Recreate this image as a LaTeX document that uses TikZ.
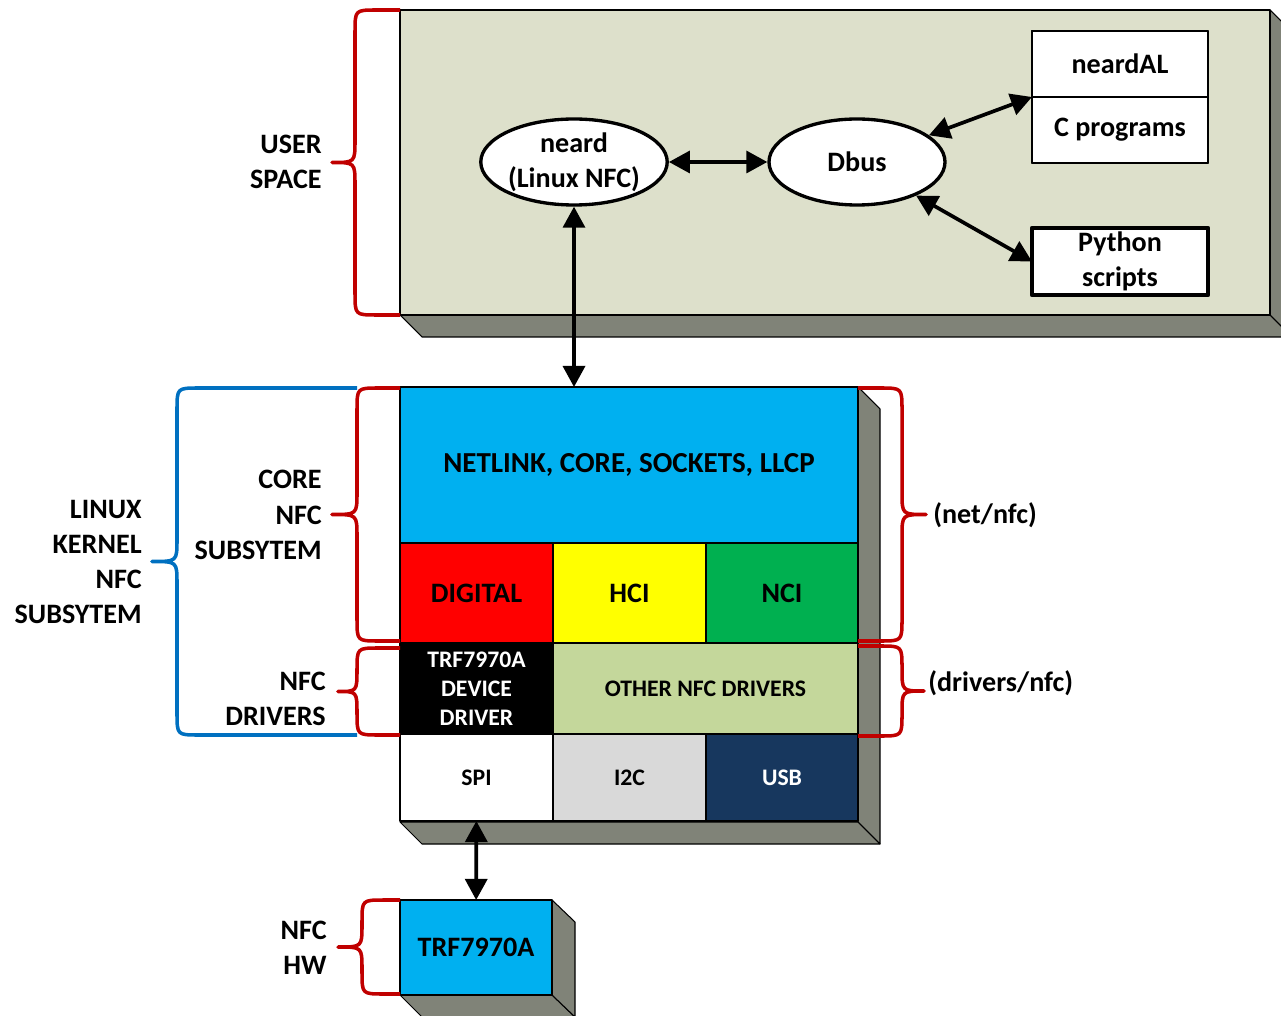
\documentclass[tikz,border=0pt]{standalone}
\usepackage{fontspec}
\setmainfont{Carlito}
\usetikzlibrary{shapes.geometric,arrows.meta}

\definecolor{userbg}{RGB}{221,224,203}
\definecolor{boxshadow}{RGB}{128,131,120}
\definecolor{coreblue}{RGB}{0,176,240}
\definecolor{digred}{RGB}{255,0,0}
\definecolor{hciyellow}{RGB}{255,255,0}
\definecolor{ncigreen}{RGB}{0,176,80}
\definecolor{drvgreen}{RGB}{196,215,155}
\definecolor{i2cgray}{RGB}{217,217,217}
\definecolor{usbnavy}{RGB}{23,55,94}
\definecolor{bracered}{RGB}{192,0,0}
\definecolor{braceblue}{RGB}{0,112,192}

\newcommand{\lblfont}{\fontsize{16}{20}\selectfont}
\newcommand{\cellfont}{\fontsize{13.5}{16.5}\selectfont}

% office style curly brace: colour, x of ends, x of spine, x of tip, top y, bottom y
\newcommand{\kbrace}[6]{%
  \pgfmathsetmacro{\bmid}{(#5+#6)/2}%
  \pgfmathsetmacro{\bcorner}{#3+22*(#2-#3)/abs(#2-#3)}%
  \draw[brace line, #1] (#2,#5) -- (\bcorner,#5) .. controls (#3,#5) .. (#3,#5+22)
    -- (#3,\bmid-22) .. controls (#3,\bmid) .. (#4,\bmid)
    .. controls (#3,\bmid) .. (#3,\bmid+22)
    -- (#3,#6-22) .. controls (#3,#6) .. (\bcorner,#6) -- (#2,#6);
}

\begin{document}
\begin{tikzpicture}[x=0.02cm, y=-0.02cm, font=\bfseries\lblfont, line join=round,
  cell/.style 2 args={draw, line width=0.6pt, inner sep=0pt, outer sep=0pt, anchor=north west,
    minimum width=#1*0.02cm, minimum height=#2*0.02cm, align=center},
  shadeface/.style={fill=boxshadow, draw, line width=0.6pt},
  bubble/.style={ellipse, draw, fill=white, line width=1.9pt, inner sep=0pt,
    minimum width=176*0.02cm, minimum height=86*0.02cm, align=center},
  link/.style={{Triangle[length=12pt,width=12.5pt]}-{Triangle[length=12pt,width=12.5pt]}, line width=2.1pt},
  lbl/.style={align=right, anchor=east, inner sep=0pt},
  rlbl/.style={anchor=west, inner sep=0pt},
  brace line/.style={line width=2pt}]
\useasboundingbox (0,0) rectangle (1281,1016);
\clip (0,0) rectangle (1281,1016);

%user space
\draw[shadeface] (400,315) -- (1270,315) -- (1292,337) -- (422,337) -- cycle;
\draw[shadeface] (1270,10) -- (1292,32) -- (1292,337) -- (1270,315) -- cycle;
\node[cell={870}{305}, fill=userbg] (user) at (400,10) {};
\node[bubble] (neard) at (574,162) {neard\\(Linux NFC)};
\node[bubble] (dbus) at (857,162) {Dbus};
\node[cell={176}{66}, fill=white] (neardal) at (1032,31) {neardAL};
\node[cell={176}{66}, fill=white] (cprog) at (1032,97) {C programs};
\draw[line width=1.6pt] (neardal.north west) rectangle (cprog.south east);
\node[cell={176}{67}, fill=white, line width=2.4pt] (python) at (1032,228) {Python\\scripts};

%kernel block
\draw[shadeface] (400,822) -- (858,822) -- (880,844) -- (422,844) -- cycle;
\draw[shadeface] (858,387) -- (880,409) -- (880,844) -- (858,822) -- cycle;
\node[cell={458}{156}, fill=coreblue, font=\bfseries\fontsize{16.5}{20}\selectfont] (netlink) at (400,387) {NETLINK, CORE, SOCKETS, LLCP};
\node[cell={153}{100}, fill=digred] (digital) at (400,543) {DIGITAL};
\node[cell={153}{100}, fill=hciyellow] (hci) at (digital.north east) {HCI};
\node[cell={152}{100}, fill=ncigreen] (nci) at (hci.north east) {NCI};
\node[cell={153}{91}, fill=black, text=white, font=\bfseries\cellfont] (trfdrv) at (digital.south west) {TRF7970A\\DEVICE\\DRIVER};
\node[cell={305}{91}, fill=drvgreen, font=\bfseries\cellfont] (others) at (trfdrv.north east) {OTHER NFC DRIVERS};
\node[cell={153}{87}, fill=white, font=\bfseries\cellfont] (spi) at (trfdrv.south west) {SPI};
\node[cell={153}{87}, fill=i2cgray, font=\bfseries\cellfont] (i2c) at (spi.north east) {I2C};
\node[cell={152}{87}, fill=usbnavy, text=white, font=\bfseries\cellfont] (usb) at (i2c.north east) {USB};

%hardware
\draw[shadeface] (400,995) -- (552,995) -- (575,1017) -- (422,1017) -- cycle;
\draw[shadeface] (552,900) -- (575,922) -- (575,1017) -- (552,995) -- cycle;
\node[cell={152}{95}, fill=coreblue] (trf) at (400,900) {TRF7970A};

%links
\draw[link] (neard) -- (dbus);
\draw[link] (dbus) -- (cprog.north west);
\draw[link] (dbus) -- (python.west);
\draw[link] (neard) -- (neard |- netlink.north);
\draw[link] (spi) -- (trf);

%braces
\kbrace{bracered}{400}{355}{332}{10}{315}
\kbrace{bracered}{400}{357}{332}{388}{641}
\kbrace{bracered}{400}{357}{338}{648}{735}
\kbrace{braceblue}{357}{177}{152}{388}{735}
\kbrace{bracered}{858}{902}{926}{388}{641}
\kbrace{bracered}{858}{902}{924}{646}{736}
\kbrace{bracered}{400}{362}{338}{900}{994}

%labels
\node[lbl] (userlbl) at (322,162) {USER\\SPACE};
\node[lbl] (corelbl) at (322,515) {CORE\\NFC\\SUBSYTEM};
\node[lbl] (kernlbl) at (142,562) {LINUX\\KERNEL\\NFC\\SUBSYTEM};
\node[lbl] (drvlbl) at (326,699) {NFC\\DRIVERS};
\node[lbl] (hwlbl) at (327,948) {NFC\\HW};
\node[rlbl] (netlbl) at (933,515) {(net/nfc)};
\node[rlbl] (drvpath) at (928,683) {(drivers/nfc)};
\end{tikzpicture}
\end{document}
